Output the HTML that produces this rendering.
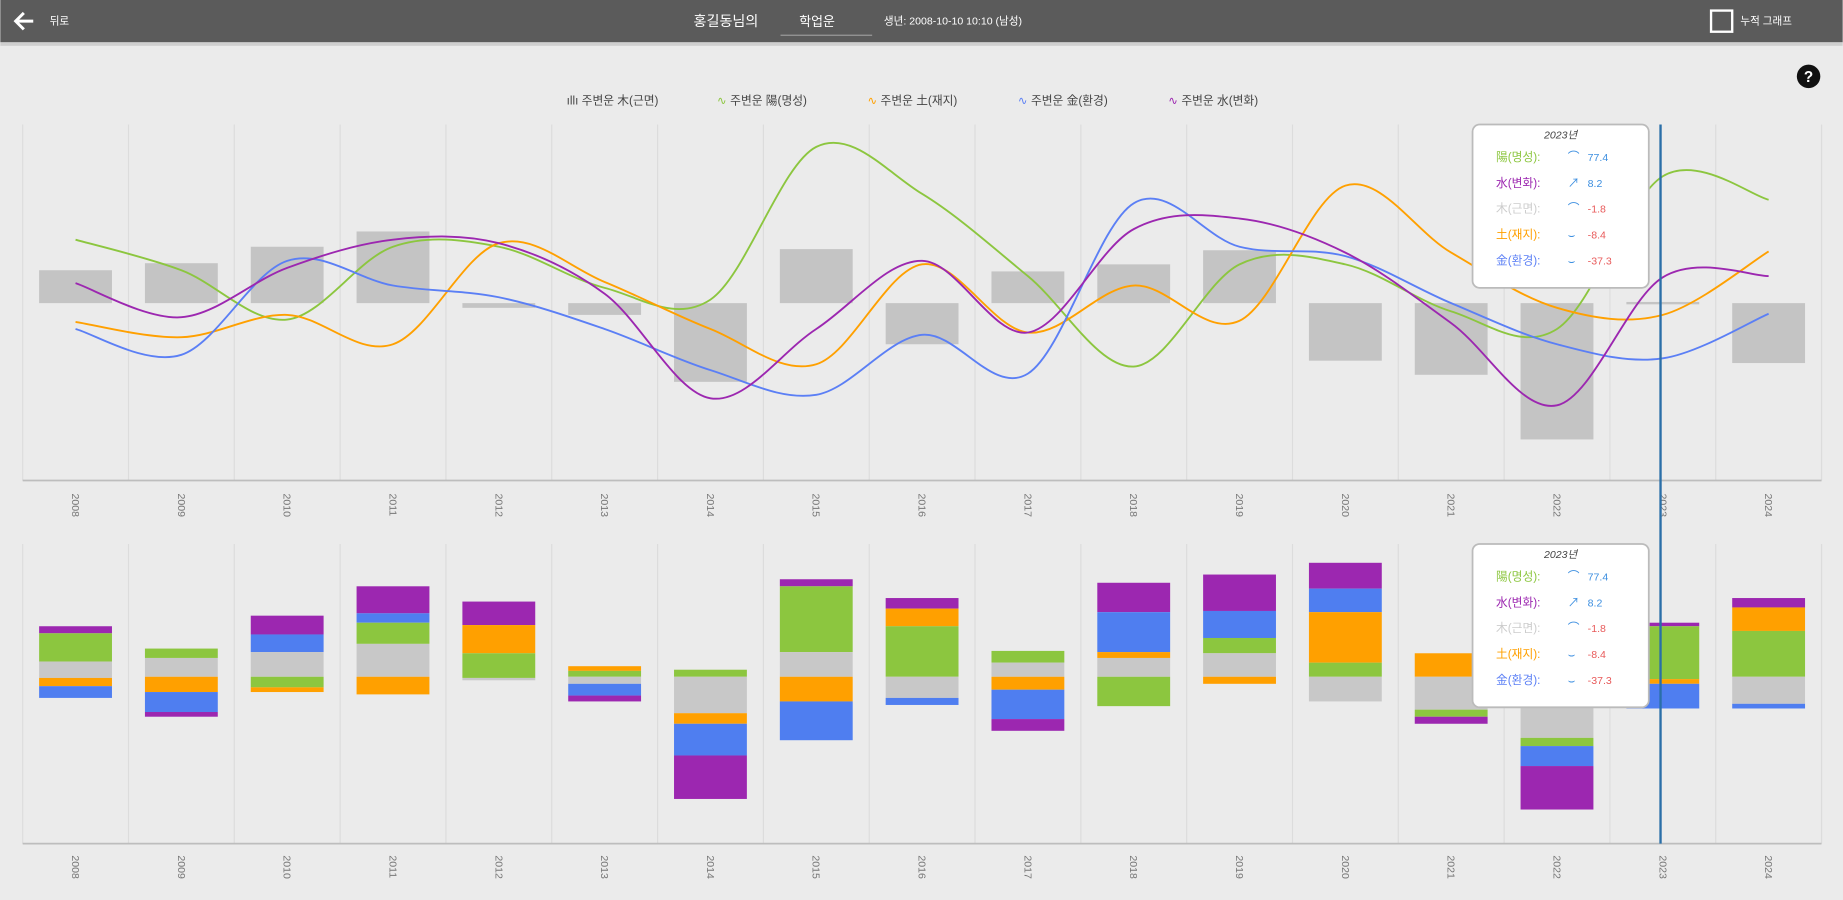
<!DOCTYPE html>
<html><head><meta charset="utf-8">
<style>
html,body{margin:0;padding:0;background:#ebebeb;}
svg{display:block;font-family:"Liberation Sans","Noto Sans CJK KR",sans-serif;}
</style></head>
<body>
<svg id="s" width="1843" height="900" viewBox="0 0 1568 766" xmlns="http://www.w3.org/2000/svg">
<rect x="0" y="0" width="1568" height="766" fill="#ebebeb"/>
<rect x="0" y="0" width="1568" height="36" fill="#5b5b5b"/>
<rect x="0" y="36" width="1568" height="3" fill="#cfcfcf"/>
<path d="M28 18 H14 M20 11 L13 18 L20 25" stroke="#fff" stroke-width="2.5" fill="none"/>
<text x="42" y="21" font-size="9" fill="#fff">뒤로</text>
<text x="590" y="22" font-size="12" fill="#fff">홍길동님의</text>
<text x="680" y="22" font-size="11" fill="#fff">학업운</text>
<line x1="664" y1="30" x2="742" y2="30" stroke="#999" stroke-width="1"/>
<text x="752" y="21" font-size="9" fill="#fff">생년: 2008-10-10 10:10 (남성)</text>
<rect x="1456" y="9" width="18" height="18" fill="none" stroke="#fff" stroke-width="2"/>
<text x="1481" y="21" font-size="9" fill="#fff">누적 그래프</text>
<circle cx="1539" cy="65" r="10" fill="#111"/>
<text x="1539" y="70" font-size="13" font-weight="bold" fill="#fff" text-anchor="middle">?</text>
<g font-size="10" fill="#444">
<text x="482" y="89">ıllı 주변운 木(근면)</text>
<text x="610" y="89"><tspan fill="#8cc63f">∿</tspan> 주변운 陽(명성)</text>
<text x="738" y="89"><tspan fill="#ffa000">∿</tspan> 주변운 土(재지)</text>
<text x="866" y="89"><tspan fill="#5b7ff5">∿</tspan> 주변운 金(환경)</text>
<text x="994" y="89"><tspan fill="#9c27b0">∿</tspan> 주변운 水(변화)</text>
</g>
<g id="grid"></g>
<g id="top"></g>
<g id="bot"></g>
<line x1="1413" y1="106" x2="1413" y2="718" stroke="#2a6fa8" stroke-width="2"/>
<g id="tips"></g>
</svg>
<script>
const NS="http://www.w3.org/2000/svg";
function el(p,t,a,txt){const e=document.createElementNS(NS,t);for(const k in a)e.setAttribute(k,a[k]);if(txt!=null)e.textContent=txt;document.getElementById(p).appendChild(e);return e;}
const cx=[];for(let i=0;i<17;i++)cx.push(64+i*90.0625);
// grid
for(let i=0;i<=17;i++){const x=19+i*90.0625;
 el("grid","line",{x1:x,y1:106,x2:x,y2:409,stroke:"#dcdcdc","stroke-width":1});
 el("grid","line",{x1:x,y1:463,x2:x,y2:718,stroke:"#dcdcdc","stroke-width":1});}
el("grid","line",{x1:19,y1:409,x2:1550,y2:409,stroke:"#bdbdbd","stroke-width":1.5});
el("grid","line",{x1:19,y1:718,x2:1550,y2:718,stroke:"#bdbdbd","stroke-width":1.5});
for(let i=0;i<17;i++){const y=2008+i;
 el("grid","text",{x:0,y:0,"font-size":9,fill:"#777",transform:`translate(${cx[i]-3},420) rotate(90)`},String(y));
 el("grid","text",{x:0,y:0,"font-size":9,fill:"#777",transform:`translate(${cx[i]-3},728) rotate(90)`},String(y));}
// top bars
const tb=[[230,258],[224,258],[210,258],[197,258],[258,262],[258,268],[258,325],[212,258],[258,293],[231,258],[225,258],[213,258],[258,307],[258,319],[258,374],[257,259],[258,309]];
tb.forEach((b,i)=>el("top","rect",{x:cx[i]-31,y:b[0],width:62,height:b[1]-b[0],fill:"#c4c4c4"}));
function path(ys){let pts=ys.map((y,i)=>[cx[i],y]);let d=`M${pts[0][0]} ${pts[0][1]}`;
 for(let i=0;i<pts.length-1;i++){const p0=pts[Math.max(i-1,0)],p1=pts[i],p2=pts[i+1],p3=pts[Math.min(i+2,pts.length-1)];
  d+=` C${p1[0]+(p2[0]-p0[0])/6} ${p1[1]+(p2[1]-p0[1])/6} ${p2[0]-(p3[0]-p1[0])/6} ${p2[1]-(p3[1]-p1[1])/6} ${p2[0]} ${p2[1]}`;}return d;}
const lines=[
["#8cc63f",[204,230,272,210,210,245,255,125,165,235,312,225,225,265,280,150,170]],
["#ffa000",[274,287,268,293,207,240,280,310,225,283,243,273,158,215,262,268,214]],
["#5b7ff5",[280,302,222,243,253,280,315,336,285,318,173,210,218,258,293,305,267]],
["#9c27b0",[241,270,228,204,207,250,339,280,222,283,195,186,215,275,345,236,235]]];
lines.forEach(l=>el("top","path",{d:path(l[1]),fill:"none",stroke:l[0],"stroke-width":1.6}));
// bottom stacked
const C={p:"#9c27b0",g:"#8cc63f",y:"#c8c8c8",o:"#ffa000",b:"#4f7ef0"};
const sb=[
[["p",533],["g",539],["y",563],["o",577],["b",584],594],
[["g",552],["y",560],["o",576],["b",589],["p",606],610],
[["p",524],["b",540],["y",555],["g",576],["o",585],589],
[["p",499],["b",522],["g",530],["y",548],["o",576],591],
[["p",512],["o",532],["g",556],["y",577],579],
[["o",567],["g",571],["y",576],["b",582],["p",592],597],
[["g",570],["y",576],["o",607],["b",616],["p",643],680],
[["p",493],["g",499],["y",555],["o",576],["b",597],630],
[["p",509],["o",518],["g",533],["y",576],["b",594],600],
[["g",554],["y",564],["o",576],["b",587],["p",612],622],
[["p",496],["b",521],["o",555],["y",560],["g",576],601],
[["p",489],["b",520],["g",543],["y",556],["o",576],582],
[["p",479],["b",501],["o",521],["g",564],["y",576],597],
[["o",556],["y",576],["g",604],["p",610],616],
[["y",576],["g",628],["b",635],["p",652],689],
[["p",530],["g",533],["o",578],["b",582],603],
[["p",509],["o",517],["g",537],["y",576],["b",599],603]];
sb.forEach((s,i)=>{for(let k=0;k<s.length-1;k++){const top=s[k][1],bot=(k+1<s.length-1)?s[k+1][1]:s[s.length-1];
 el("bot","rect",{x:cx[i]-31,y:top,width:62,height:bot-top,fill:C[s[k][0]]});}});
// tooltips
[[106],[463]].forEach(([y0])=>{
 el("tips","rect",{x:1253,y:y0,width:150,height:139,rx:6,fill:"#fff",stroke:"#bbb","stroke-width":1.5});
 el("tips","text",{x:1328,y:y0+12,"font-size":9,"font-style":"italic",fill:"#444","text-anchor":"middle"},"2023년");
 const rows=[["陽(명성):","#8cc63f","⌒","77.4","#3d8fe0"],["水(변화):","#9c27b0","↗","8.2","#3d8fe0"],["木(근면):","#cccccc","⌒","-1.8","#e85a5a"],["土(재지):","#ffa000","⌣","-8.4","#e85a5a"],["金(환경):","#5b7ff5","⌣","-37.3","#e85a5a"]];
 rows.forEach((r,k)=>{const y=y0+31+k*22;
  el("tips","text",{x:1273,y:y,"font-size":10,fill:r[1]},r[0]);
  el("tips","text",{x:1334,y:y,"font-size":10,fill:"#3d8fe0"},r[2]);
  el("tips","text",{x:1351,y:y,"font-size":9,fill:r[4]},r[3]);});
});
</script>
</body></html>
